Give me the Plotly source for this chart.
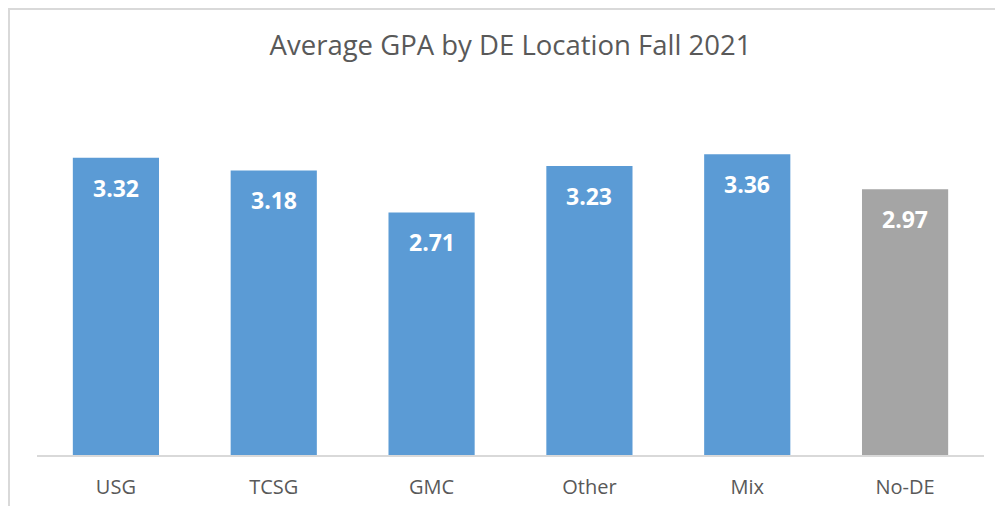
import plotly.graph_objects as go

categories = ["USG", "TCSG", "GMC", "Other", "Mix", "No-DE"]
gpa = [3.32, 3.18, 2.71, 3.23, 3.36, 2.97]
bar_colors = ["#5B9BD5", "#5B9BD5", "#5B9BD5", "#5B9BD5", "#5B9BD5", "#A5A5A5"]
title_text = "Average GPA by DE Location Fall 2021"

FONT = "Open Sans"

fig = go.Figure()
fig.add_trace(go.Bar(
    x=categories, y=gpa, marker=dict(color=bar_colors, line=dict(width=0)),
    hoverinfo="x+y",
))

for c, v in zip(categories, gpa):
    fig.add_annotation(
        x=c, y=v, text=f"{v:.2f}", showarrow=False, yanchor="top",
        yshift=-12, font=dict(family=FONT, size=23, color="white", weight="bold"),
    )

# page body has an 8px margin; figure sized to fit inside the window
W, H = 987, 498
ml, mr, mt, mb = 29, 11, 89, 51
pw, ph = W - ml - mr, H - mt - mb
# chart border (light gray frame)
fig.add_shape(type="rect", xref="paper", yref="paper",
              x0=-(ml - 1) / pw, x1=1 + (mr + 20) / pw,
              y0=-(mb + 20) / ph, y1=1 + (mt - 1) / ph,
              line=dict(color="#D9D9D9", width=2), fillcolor="rgba(0,0,0,0)", layer="below")

fig.update_layout(
    width=W, height=H,
    margin=dict(l=ml, r=mr, t=mt, b=mb, autoexpand=False),
    paper_bgcolor="white", plot_bgcolor="white",
    title=dict(text=title_text, x=0.5, xref="paper", xanchor="center", y=1 - 37 / H, yanchor="middle",
               font=dict(family=FONT, size=27.5, color="#595959")),
    bargap=0.454,
    showlegend=False,
    xaxis=dict(showline=True, linecolor="#D9D9D9", linewidth=1.5, ticks="",
               ticklabelstandoff=13, automargin=False,
               tickfont=dict(family=FONT, size=20, color="#595959"), showgrid=False),
    yaxis=dict(range=[0, 4], visible=False, showgrid=False, zeroline=False, automargin=False),
)

fig.write_html("out.html")
